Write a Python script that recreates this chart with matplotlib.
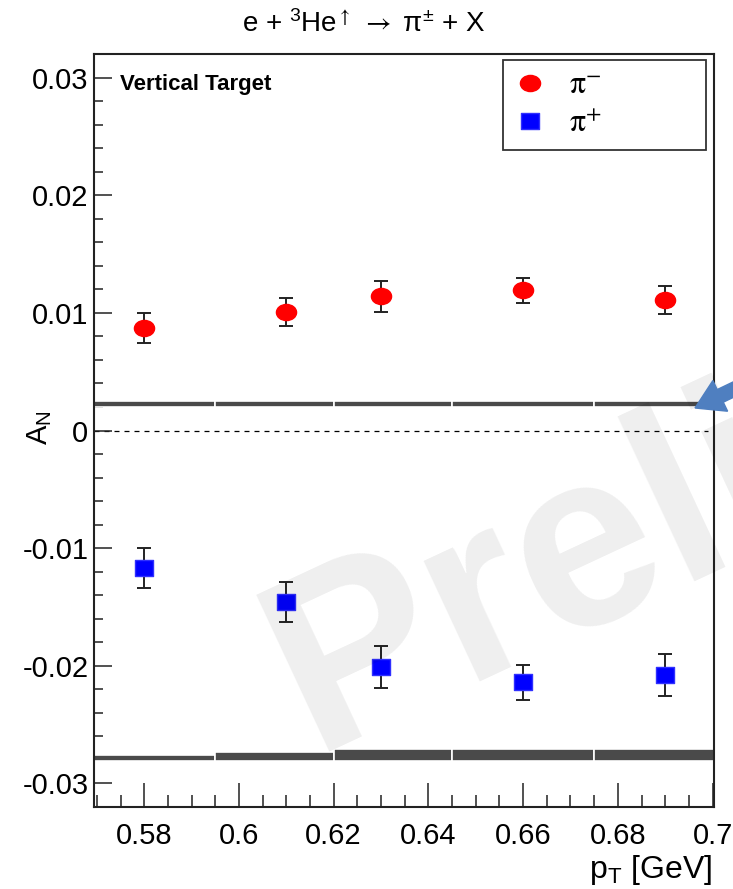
import matplotlib
matplotlib.use("Agg")
import matplotlib.pyplot as plt
import matplotlib.patches as mpatches
import matplotlib.path as mpath
from matplotlib.transforms import IdentityTransform, Affine2D
from matplotlib.ticker import MultipleLocator, FixedLocator
from matplotlib.lines import Line2D
import numpy as np

plt.rcParams['font.family'] = ['Liberation Sans', 'DejaVu Sans']
plt.rcParams['mathtext.fontset'] = 'stix'

# ---- data ----
pt = [0.58, 0.61, 0.63, 0.66, 0.69]
an_pim = [0.0087, 0.0101, 0.0114, 0.0119, 0.0111]
err_pim = [0.00127, 0.0012, 0.0013, 0.0011, 0.0012]
an_pip = [-0.0117, -0.0146, -0.0201, -0.0214, -0.0208]
err_pip = [0.0017, 0.0017, 0.0018, 0.0015, 0.0018]
bin_edges = [0.565, 0.595, 0.62, 0.645, 0.675, 0.705]
sys_pim_base = 0.0020
sys_pim = [0.0005, 0.0005, 0.0005, 0.0005, 0.0005]
sys_pip_base = -0.0281
sys_pip = [0.0005, 0.0008, 0.0010, 0.0010, 0.0010]
xticks = [0.58, 0.60, 0.62, 0.64, 0.66, 0.68, 0.70]
xticklabels = ['0.58', '0.6', '0.62', '0.64', '0.66', '0.68', '0.7']
yticks = [-0.03, -0.02, -0.01, 0.0, 0.01, 0.02, 0.03]
yticklabels = ['-0.03', '-0.02', '-0.01', '0', '0.01', '0.02', '0.03']

W, H = 733, 889
fig = plt.figure(figsize=(W / 100, H / 100), dpi=100)
ax = fig.add_axes([94 / W, 1 - 807 / H, (714 - 94) / W, (807 - 54) / H])

# slightly wide markers (reference is horizontally stretched)
ell = mpath.Path(Affine2D().scale(1.0, 0.8).transform(mpath.Path.unit_circle().vertices),
                 mpath.Path.unit_circle().codes)
rect = mpath.Path(Affine2D().scale(1.0, 0.84).transform(mpath.Path.unit_rectangle().vertices - 0.5),
                  mpath.Path.unit_rectangle().codes)

# systematic bands
edges = np.array(bin_edges)
widths = np.diff(edges)
ax.bar(edges[:-1], sys_pim, width=widths, bottom=sys_pim_base, align='edge',
       color='#4a4a4a', edgecolor='white', linewidth=1.2, zorder=2)
ax.bar(edges[:-1], sys_pip, width=widths, bottom=sys_pip_base, align='edge',
       color='#4a4a4a', edgecolor='white', linewidth=1.2, zorder=2)

ax.axhline(0, color='black', lw=0.9, ls=(0, (4, 4)), xmax=0.99, zorder=1)

ax.errorbar(pt, an_pim, yerr=err_pim, fmt='none', ecolor='#222222',
            elinewidth=1.4, capsize=5, capthick=1.4, zorder=3)
ax.plot(pt, an_pim, ls='none', marker=ell, ms=14.5, color='#ff0000',
        mec='#ff0000', zorder=4)
ax.errorbar(pt, an_pip, yerr=err_pip, fmt='none', ecolor='#222222',
            elinewidth=1.4, capsize=5, capthick=1.4, zorder=3)
ax.plot(pt, an_pip, ls='none', marker=rect, ms=13.5, color='#0000ff',
        mec='#3030ff', zorder=4)

ax.set_xlim(0.5694, 0.7003)
ax.set_ylim(-0.032, 0.032)

ax.xaxis.set_major_locator(FixedLocator(xticks))
ax.set_xticklabels(xticklabels)
ax.xaxis.set_minor_locator(MultipleLocator(0.005))
ax.yaxis.set_major_locator(FixedLocator(yticks))
ax.set_yticklabels(yticklabels)
ax.yaxis.set_minor_locator(MultipleLocator(0.002))

ax.tick_params(axis='x', which='major', direction='in', length=17, width=1.1,
               labelsize=21, pad=11, top=False, colors='#222222', labelcolor='black')
ax.tick_params(axis='x', which='minor', direction='in', length=8.5, width=1.1, top=False, colors='#222222')
ax.tick_params(axis='y', which='major', direction='in', length=13, width=1.1,
               labelsize=21, pad=4, right=False, colors='#222222', labelcolor='black')
ax.tick_params(axis='y', which='minor', direction='in', length=6.5, width=1.1, right=False, colors='#222222')
for s in ax.spines.values():
    s.set_linewidth(1.5)
    s.set_color('#222222')

ax.text(0.042, 0.974, 'Vertical Target', transform=ax.transAxes, fontsize=16,
        fontweight='bold', ha='left', va='top')

handles = [Line2D([], [], ls='none', marker=ell, ms=14.5, color='#ff0000', mec='#ff0000'),
           Line2D([], [], ls='none', marker=rect, ms=13.5, color='#0000ff', mec='#3030ff')]
leg = ax.legend(handles, [r'$\mathrm{\pi}^{-}$', r'$\mathrm{\pi}^{+}$'],
                loc='upper left', bbox_to_anchor=(0.6597, 0.875, 0.3274, 0.117),
                mode='expand', fontsize=23, frameon=True, fancybox=False,
                edgecolor='black', handletextpad=0.7, borderpad=0.35,
                labelspacing=0.25, handlelength=1.0, borderaxespad=0.0)
leg.get_frame().set_linewidth(1.3)

fig.text(364 / W, 1 - 24 / H,
         r'e + $\mathregular{^{3}}$He$^{\uparrow}$ $\rightarrow$ π$\mathregular{^{\pm}}$ + X',
         fontsize=20, ha='center', va='center')
fig.text(40 / W, 1 - 428 / H, r'A$\mathregular{_{N}}$', fontsize=21, rotation=90,
         ha='center', va='center')
fig.text(712 / W, 1 - 870 / H, r'p$\mathregular{_{T}}$ [GeV]', fontsize=23,
         ha='right', va='center')

# watermark
fig.text(312 / W, 1 - 752 / H, 'Preliminary', fontsize=180, color='black',
         fontweight='bold', alpha=0.065, rotation=25, ha='left', va='baseline',
         zorder=10, rotation_mode='anchor')

# arrow
arr = mpatches.FancyArrow(745, H - 384, -50, -24, width=14, head_width=34,
                          head_length=28, length_includes_head=True,
                          color='#4f7fc0', transform=IdentityTransform(),
                          zorder=11)
fig.patches.append(arr)

fig.savefig('out.png', dpi=100)
